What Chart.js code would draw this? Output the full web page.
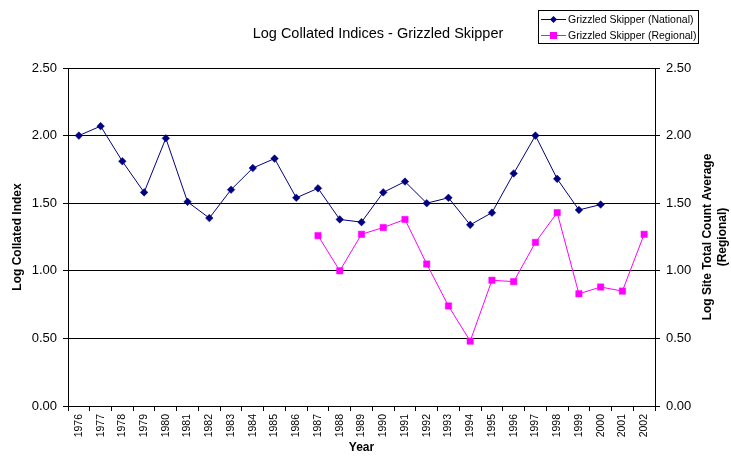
<!DOCTYPE html>
<html>
<head>
<meta charset="utf-8">
<script src="https://cdn.jsdelivr.net/npm/chart.js@4/dist/chart.umd.min.js"></script>
<style>
  html, body { margin: 0; padding: 0; background: #fff; }
  #wrap { width: 731px; height: 459px; position: relative; }
</style>
</head>
<body>
<div id="wrap"><canvas id="c" width="731" height="459"></canvas></div>
<script>
const years = ['1976','1977','1978','1979','1980','1981','1982','1983','1984','1985','1986','1987','1988','1989','1990','1991','1992','1993','1994','1995','1996','1997','1998','1999','2000','2001','2002'];
const national = [2.00, 2.07, 1.81, 1.58, 1.98, 1.51, 1.39, 1.60, 1.76, 1.83, 1.54, 1.61, 1.38, 1.36, 1.58, 1.66, 1.50, 1.54, 1.34, 1.43, 1.72, 2.00, 1.68, 1.45, 1.49, null, null];
const regional = [null, null, null, null, null, null, null, null, null, null, null, 1.26, 1.00, 1.27, 1.32, 1.38, 1.05, 0.74, 0.48, 0.93, 0.92, 1.21, 1.43, 0.83, 0.88, 0.85, 1.27];
const axisTicks = [0, 0.5, 1.0, 1.5, 2.0, 2.5];
const chartTitle = 'Log Collated Indices - Grizzled Skipper';
const leftTitle = 'Log Collated Index';
const rightTitle = ['Log Site Total Count Average', '(Regional)'];
const xTitle = 'Year';
const seriesNames = ['Grizzled Skipper (National)', 'Grizzled Skipper (Regional)'];

const FONT = "'Liberation Sans', Arial, sans-serif";
const NAVY = '#000080';
const MAGENTA = '#FF00FF';

const extras = {
  id: 'extras',
  afterDraw(chart) {
    const ctx = chart.ctx;
    ctx.save();
    // Chart title
    ctx.fillStyle = '#000';
    ctx.font = '14.5px ' + FONT;
    ctx.textAlign = 'center';
    ctx.textBaseline = 'middle';
    ctx.fillText(chartTitle, 378, 34);

    // Right axis title (rotated, reading bottom to top)
    const ca = chart.chartArea;
    const cy = (ca.top + ca.bottom) / 2;
    ctx.font = 'bold 12px ' + FONT;
    ctx.translate(708, cy);
    ctx.rotate(-Math.PI / 2);
    ctx.fillText(rightTitle[0], 0, 0);
    ctx.fillText(rightTitle[1], 0, 15);
    ctx.setTransform(1, 0, 0, 1, 0, 0);

    // Legend
    ctx.strokeStyle = '#000';
    ctx.lineWidth = 1;
    ctx.strokeRect(538.5, 10.5, 160, 33);
    ctx.font = '10.5px ' + FONT;
    ctx.textAlign = 'left';
    const rows = [
      { y: 19.5, color: NAVY, shape: 'diamond', name: seriesNames[0] },
      { y: 35.5, color: MAGENTA, shape: 'square', name: seriesNames[1] }
    ];
    rows.forEach(r => {
      ctx.strokeStyle = r.color;
      ctx.beginPath();
      ctx.moveTo(541, r.y);
      ctx.lineTo(566, r.y);
      ctx.stroke();
      ctx.fillStyle = r.color;
      const cx = 553.5;
      ctx.beginPath();
      if (r.shape === 'diamond') {
        ctx.moveTo(cx, r.y - 3.5);
        ctx.lineTo(cx + 3.5, r.y);
        ctx.lineTo(cx, r.y + 3.5);
        ctx.lineTo(cx - 3.5, r.y);
        ctx.closePath();
      } else {
        ctx.rect(cx - 3.5, r.y - 3.5, 7, 7);
      }
      ctx.fill();
      ctx.fillStyle = '#000';
      ctx.fillText(r.name, 568, r.y + 0.5);
    });
    ctx.restore();
  }
};

new Chart(document.getElementById('c'), {
  type: 'line',
  data: {
    labels: years,
    datasets: [
      {
        label: seriesNames[0],
        data: national,
        yAxisID: 'y',
        borderColor: NAVY,
        backgroundColor: NAVY,
        borderWidth: 1,
        pointStyle: 'rectRot',
        pointRadius: 3.8,
        pointBorderWidth: 0.5,
        pointBackgroundColor: NAVY,
        pointBorderColor: NAVY,
        tension: 0,
        fill: false
      },
      {
        label: seriesNames[1],
        data: regional,
        yAxisID: 'y2',
        borderColor: MAGENTA,
        backgroundColor: MAGENTA,
        borderWidth: 1,
        pointStyle: 'rect',
        pointRadius: 4.5,
        pointBorderWidth: 0.5,
        pointBackgroundColor: MAGENTA,
        pointBorderColor: MAGENTA,
        tension: 0,
        fill: false
      }
    ]
  },
  options: {
    responsive: false,
    animation: false,
    devicePixelRatio: 1,
    layout: { padding: { top: 68, left: 0, right: 0, bottom: 0 } },
    plugins: {
      legend: { display: false },
      title: { display: false },
      tooltip: { enabled: false }
    },
    scales: {
      x: {
        type: 'category',
        offset: true,
        afterFit(s) { s.height = 53; },
        grid: {
          offset: true,
          drawOnChartArea: false,
          drawTicks: true,
          tickLength: 5,
          color: '#000',
          lineWidth: 1
        },
        border: { display: true, color: '#000', width: 1 },
        ticks: {
          autoSkip: false,
          minRotation: 90,
          maxRotation: 90,
          padding: 3,
          color: '#000',
          font: { family: FONT, size: 10.5 }
        },
        title: {
          display: true,
          text: xTitle,
          color: '#000',
          font: { family: FONT, size: 12, weight: 'bold' },
          padding: { top: 0, bottom: 4 }
        }
      },
      y: {
        position: 'left',
        min: 0,
        max: 2.5,
        afterFit(s) { s.width = 68; },
        afterBuildTicks(s) { s.ticks = axisTicks.map(v => ({ value: v })); },
        grid: {
          drawOnChartArea: true,
          drawTicks: true,
          tickLength: 5,
          color: '#000',
          lineWidth: 1
        },
        border: { display: true, color: '#000', width: 1 },
        ticks: {
          padding: 6,
          color: '#000',
          font: { family: FONT, size: 13 },
          callback: v => Number(v).toFixed(2)
        },
        title: {
          display: true,
          text: leftTitle,
          color: '#000',
          font: { family: FONT, size: 12, weight: 'bold' },
          padding: { top: 10.5, bottom: 0 }
        }
      },
      y2: {
        position: 'right',
        min: 0,
        max: 2.5,
        afterFit(s) { s.width = 76; },
        afterBuildTicks(s) { s.ticks = axisTicks.map(v => ({ value: v })); },
        grid: {
          drawOnChartArea: false,
          drawTicks: true,
          tickLength: 5,
          color: '#000',
          lineWidth: 1
        },
        border: { display: true, color: '#000', width: 1 },
        ticks: {
          padding: 6,
          color: '#000',
          font: { family: FONT, size: 13 },
          callback: v => Number(v).toFixed(2)
        }
      }
    }
  },
  plugins: [extras]
});
</script>
</body>
</html>
